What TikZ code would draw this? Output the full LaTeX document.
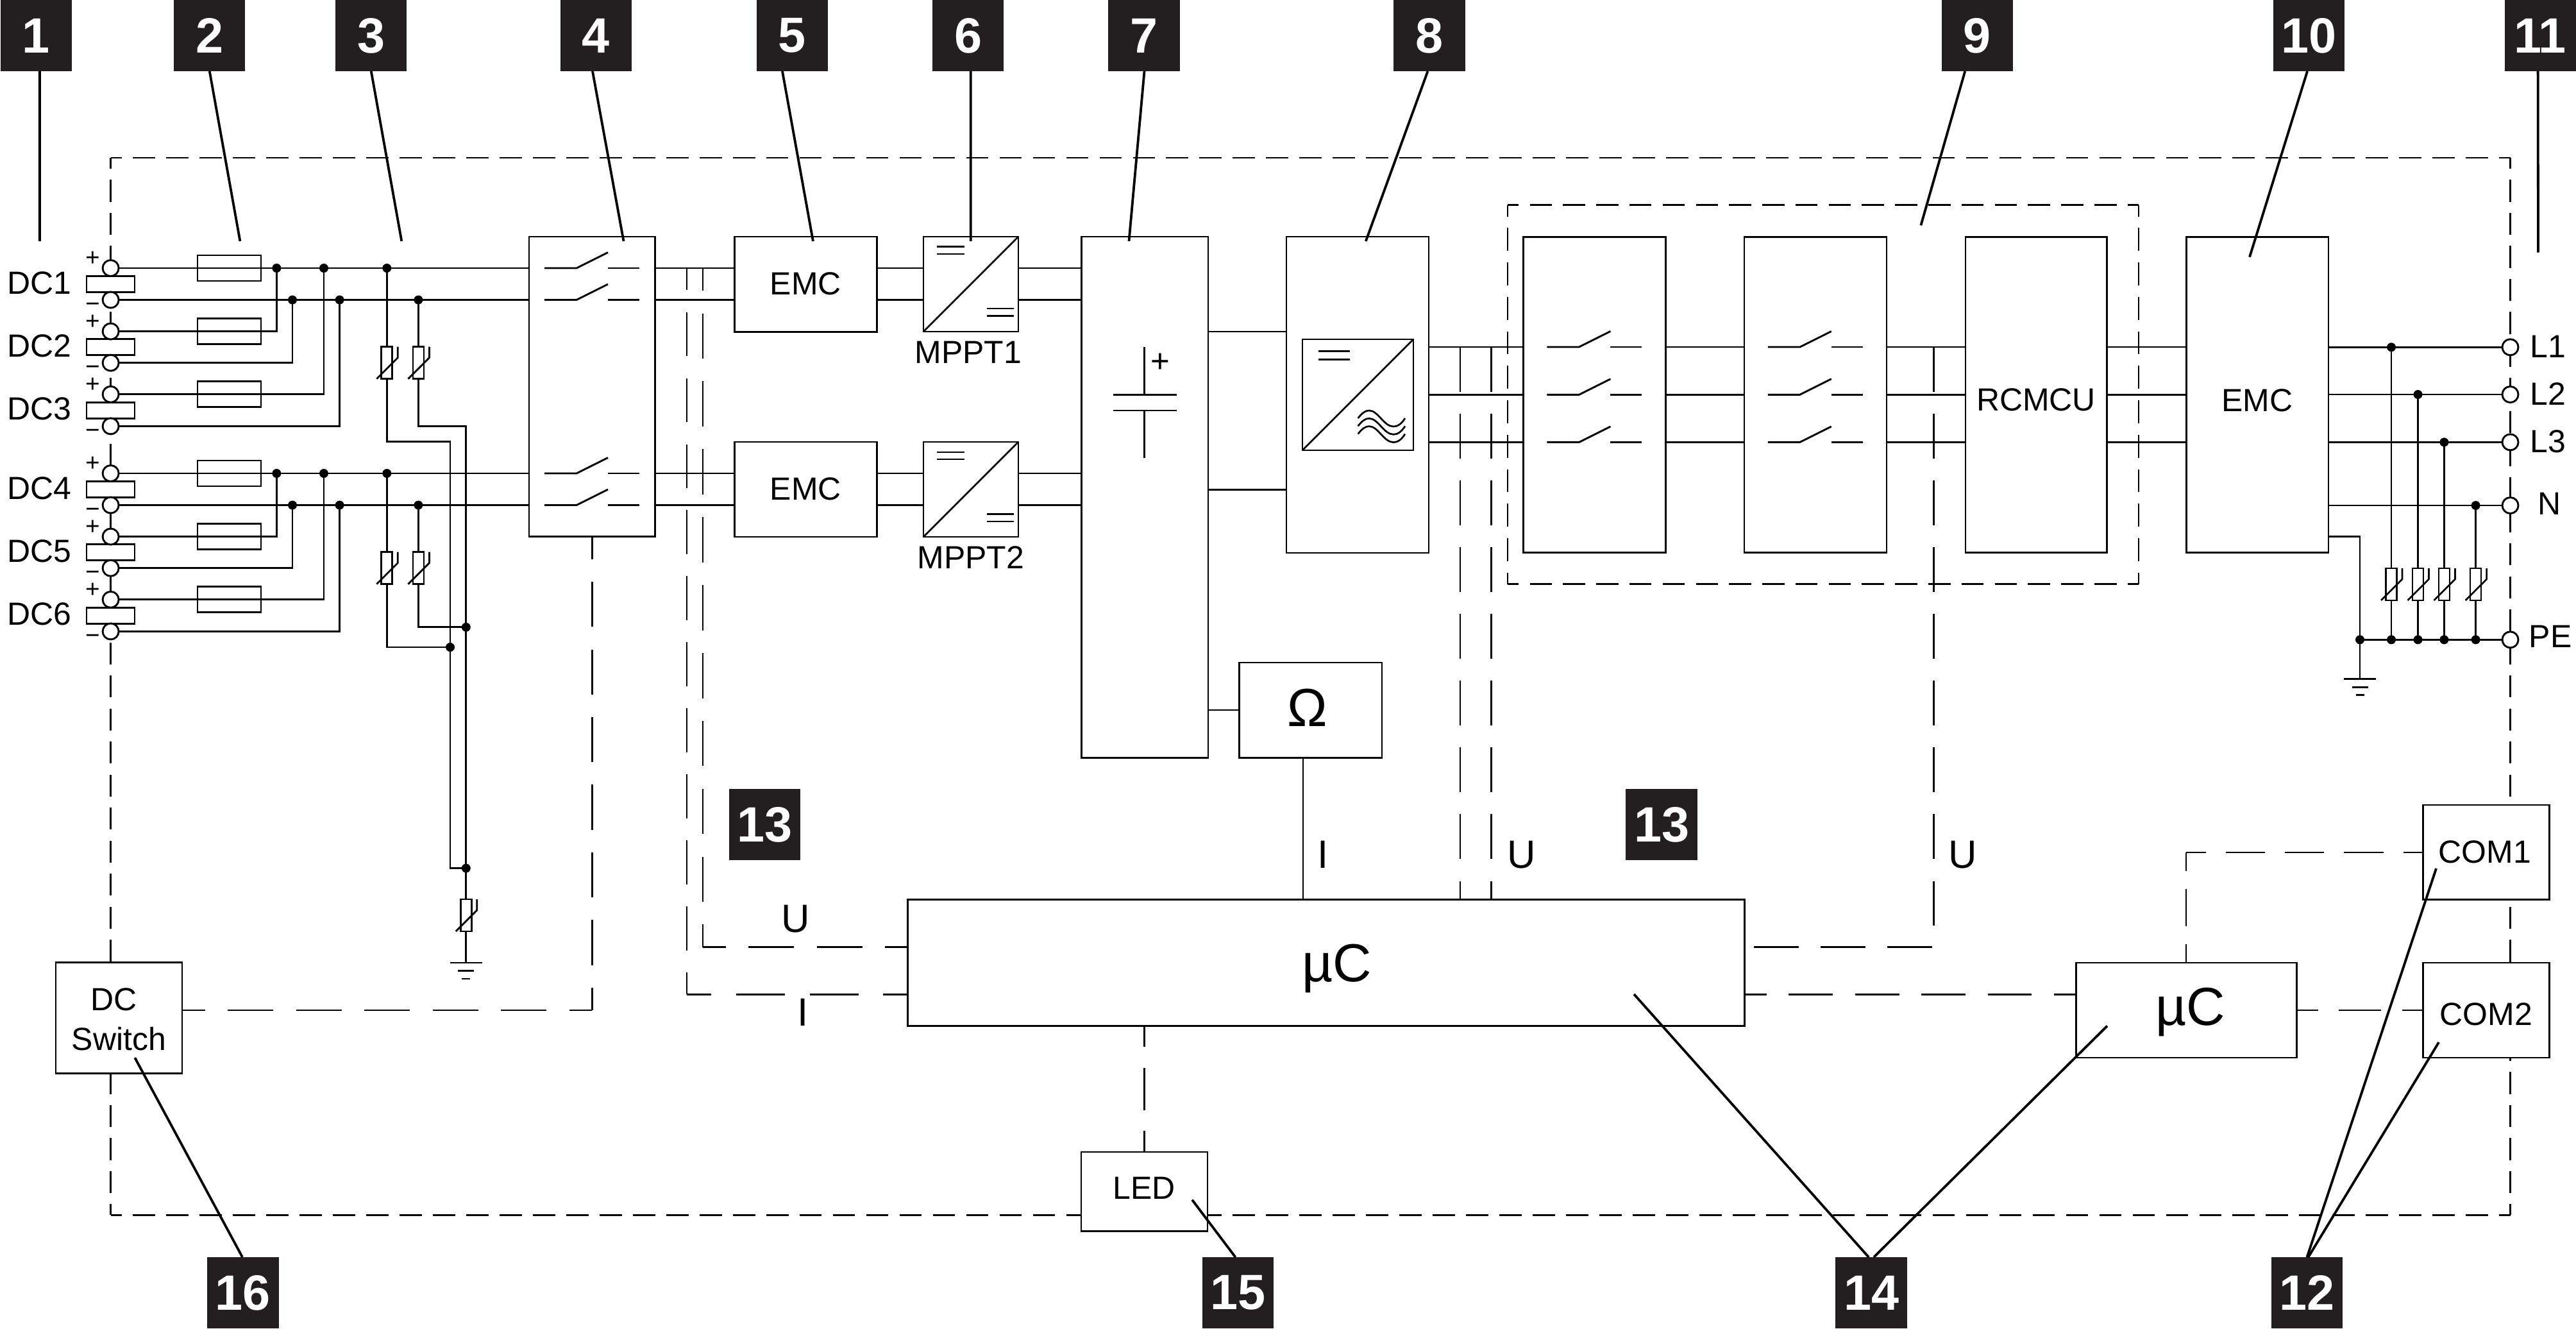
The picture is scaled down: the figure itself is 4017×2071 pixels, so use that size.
\documentclass[tikz,border=0pt]{standalone}
\usepackage{fontspec}
\setmainfont{Liberation Sans}
\usetikzlibrary{calc}
\definecolor{tagblack}{HTML}{231F20}
\newcounter{jc}
\tikzset{
  wire/.style={line width=0.029cm,line cap=butt},
  dl/.style={line width=0.028cm,line cap=butt},
  dfix/.style={dl,dash pattern=on 0.695cm off 0.345cm},
  leader/.style={line width=0.038cm},
  box/.style={draw,line width=0.029cm,fill=white,inner sep=0pt,outer sep=0pt,rectangle},
  fuse/.style={draw,line width=0.029cm,inner sep=0pt,outer sep=0pt,rectangle,minimum width=0.99cm,minimum height=0.40cm},
  vbox/.style={draw,line width=0.027cm,fill=white,inner sep=0pt,outer sep=0pt,rectangle,minimum width=0.17cm,minimum height=0.50cm},
  term/.style={draw,line width=0.029cm,fill=white,circle,inner sep=0pt,outer sep=0pt,minimum size=0.25cm},
  jd/.style={fill=black,circle,inner sep=0pt,outer sep=0pt,minimum size=0.14cm},
  tagn/.style={fill=tagblack,text=white,inner sep=0pt,outer sep=0pt,minimum width=1.11cm,minimum height=1.11cm,font=\fontsize{22pt}{24pt}\selectfont\bfseries},
  lab/.style={inner sep=0pt,anchor=base,font=\fontsize{14.2pt}{17pt}\selectfont},
  labw/.style={lab,anchor=base west},
  big/.style={inner sep=0pt,anchor=base,font=\fontsize{17.5pt}{20pt}\selectfont},
  huge/.style={inner sep=0pt,anchor=base,font=\fontsize{23.8pt}{27pt}\selectfont},
  sgn/.style={inner sep=0pt,font=\fontsize{11pt}{13pt}\selectfont}
}
\newcommand\dseg[3]{%
  \path let \p1=($(#1)-(#2)$),\n1={veclen(\x1,\y1)} in \pgfextra{%
    \pgfmathsetmacro\dper{\n1/#3}\pgfmathsetmacro\don{\dper*2/3}%
    \pgfmathsetmacro\dof{\dper/3}\pgfmathsetmacro\dph{\don/2}%
    \xdef\dOn{\don}\xdef\dOf{\dof}\xdef\dPh{\dph}};
  \draw[dl,dash pattern=on \dOn pt off \dOf pt,dash phase=\dPh pt] (#1) -- (#2);}
\newcommand\blk[5]{%
  \pgfmathsetmacro\bw{(#4-#2)*0.01}\pgfmathsetmacro\bh{(#5-#3)*0.01}%
  \pgfmathsetmacro\bx{(#2+#4)/2}\pgfmathsetmacro\by{(#3+#5)/2}%
  \node[box,minimum width=\bw cm,minimum height=\bh cm] (#1) at (\bx,\by) {};}
\newcommand\tagb[4]{\pgfmathsetmacro\tx{#2+55.5}\pgfmathsetmacro\ty{#3+55.5}%
  \node[tagn] (#1) at (\tx,\ty) {#4};}
\newcommand\ldr[4]{\draw[leader] ($(#1)+(#2,0)$) -- (#3,#4);}
\newcommand\jdot[1]{\stepcounter{jc}\node[jd] (jd\arabic{jc}) at (#1) {};}
\newcommand\vari[3]{% name cx ytop
  \pgfmathsetmacro\vy{#3+25}\node[vbox] (#1) at (#2,\vy) {};
  \pgfmathsetmacro\va{#2-16}\pgfmathsetmacro\vb{#3+50}\pgfmathsetmacro\vc{#2+17}\pgfmathsetmacro\vd{#3+17}%
  \draw[line width=0.027cm] (\va,\vb) -- (\vc,\vd) -- (\vc,#3);}
\newcommand\gnd[2]{% x y
  \draw[wire] ($(#1)+(-25,0)$) -- ($(#1)+(25,0)$);
  \draw[wire] ($(#1)+(-12.5,12.5)$) -- ($(#1)+(12.5,12.5)$);
  \draw[wire] ($(#1)+(-6.5,25)$) -- ($(#1)+(6.5,25)$);}
\newcommand\swt[2]{% x1 y
  \draw[wire] (#1,#2) -- ++(50,0) -- ++(49,-24.5);
  \draw[wire] ($(#1,#2)+(99,0)$) -- ++(49,0);}
\newcommand\eqs[4]{\draw[wire] (#1,#3) -- (#2,#3);\draw[wire] (#1,#4) -- (#2,#4);}
\begin{document}
\begin{tikzpicture}[x=0.01cm,y=-0.01cm]
\useasboundingbox (0,0) rectangle (4017,2071);
\fill[white] (0,0) rectangle (4017,2071);
% ---- dashed frames
\coordinate (oNW) at (172.8,246);\coordinate (oNE) at (3914.5,246);
\coordinate (oSE) at (3914.5,1894.4);\coordinate (oSW) at (172.8,1894.4);
\dseg{oNW}{oNE}{72}\dseg{oNE}{oSE}{32}\dseg{oSE}{oSW}{72}\dseg{oSW}{oNW}{32}
\coordinate (iNW) at (2351,319.6);\coordinate (iNE) at (3335,319.6);
\coordinate (iSE) at (3335,910.6);\coordinate (iSW) at (2351,910.6);
\dseg{iNW}{iNE}{19}\dseg{iNE}{iSE}{11}\dseg{iSE}{iSW}{19}\dseg{iSW}{iNW}{11}
% ---- blocks
\blk{b4}{825}{369}{1021.4}{836.7}
\blk{emcA}{1145.4}{369}{1367.4}{517.5}
\blk{emcB}{1145.4}{689}{1367.4}{837}
\blk{mpA}{1440}{369}{1588}{517}
\blk{mpB}{1440}{689}{1588}{837}
\blk{b7}{1686.5}{369}{1884}{1181.7}
\blk{b8}{2006}{369}{2228}{862}
\blk{inv}{2031}{529}{2204}{702}
\blk{omega}{1932.4}{1033}{2155}{1181.7}
\blk{sA}{2375.4}{369.4}{2597.3}{861.6}
\blk{sB}{2720}{369.4}{2942}{861.6}
\blk{rcm}{3065}{369.4}{3285.6}{861.6}
\blk{emcC}{3409.4}{369.4}{3631}{861.6}
\blk{mc}{1415.8}{1402.7}{2720.4}{1599.7}
\blk{mu}{3237.4}{1501}{3581.8}{1649}
\blk{comA}{3778.3}{1255}{3975.5}{1402.8}
\blk{comB}{3778.3}{1501}{3975.5}{1649}
\blk{dcs}{87}{1500.7}{284}{1673.8}
\blk{led}{1686}{1796}{1883}{1919.7}
% ---- DC wiring (two groups)
\foreach \g/\dy/\nA/\nB/\nC in {a/0/1/2/3,b/320/4/5/6}{
  \foreach \k/\yy/\ym/\nn/\fid in {0/418/467.5/\nA/1,1/516.6/565.7/\nB/2,2/614.8/664.4/\nC/3}{
    \pgfmathsetmacro\yp{\yy+\dy}\pgfmathsetmacro\yn{\ym+\dy}\pgfmathsetmacro\yc{(\yp+\yn)/2}
    \coordinate (p\g\k) at (172.6,\yp);\coordinate (m\g\k) at (172.6,\yn);
    \node[box,minimum width=0.75cm,minimum height=0.25cm] (r\g\k) at (172.5,\yc) {};
    \node[term] (tp\g\k) at (p\g\k) {};
    \node[term] (tm\g\k) at (m\g\k) {};
    \node[fuse] (f\g\k) at (357.5,\yp) {};
    \pgfmathsetmacro\ya{\yp-14.3}\pgfmathsetmacro\yb{\yn+12}\pgfmathsetmacro\yl{\yp+40}
    \node[sgn] (sp\g\k) at (144.5,\ya) {+};
    \node[sgn] (sm\g\k) at (144.5,\yb) {−};
    \node[labw] (dc\g\k) at (11,\yl) {DC\nn};
  }
  \pgfmathsetmacro\ya{418+\dy}\pgfmathsetmacro\yb{467.5+\dy}
  \coordinate (A\g) at (431.4,\ya);\coordinate (B\g) at (456,\yb);
  \coordinate (C\g) at (505,\ya);\coordinate (D\g) at (529.6,\yb);
  \coordinate (E\g) at (603.3,\ya);\coordinate (F\g) at (652.4,\yb);
  \draw[wire] (tp\g0.east) -- (b4.west |- tp\g0);
  \draw[wire] (tm\g0.east) -- (b4.west |- tm\g0);
  \draw[wire] (tp\g1.east) -| (A\g);
  \draw[wire] (tm\g1.east) -| (B\g);
  \draw[wire] (tp\g2.east) -| (C\g);
  \draw[wire] (tm\g2.east) -| (D\g);
  \jdot{A\g}\jdot{B\g}\jdot{C\g}\jdot{D\g}\jdot{E\g}\jdot{F\g}
  \pgfmathsetmacro\yv{540.7+\dy}
  \vari{vE\g}{603.3}{\yv}
  \vari{vF\g}{652.4}{\yv}
  \draw[wire] (E\g) -- (vE\g.north);
  \draw[wire] (F\g) -- (vF\g.north);
  \swt{849}{\ya}\swt{849}{\yb}
}
% surge protection rails
\coordinate (rA) at (702,688.5);\coordinate (rB) at (726.8,664.4);
\coordinate (rC) at (702,1009);\coordinate (rD) at (726.8,977.8);
\coordinate (rE) at (702,1353.6);\coordinate (rF) at (726.8,1353.6);
\vari{vG}{726.8}{1402}
\draw[wire] (vEa.south) |- (rA) -- (rE) -- (rF);
\draw[wire] (vFa.south) |- (rB) -- (vG.north);
\draw[wire] (vEb.south) |- (rC);
\draw[wire] (vFb.south) |- (rD);
\coordinate (gA) at (726.8,1501);
\draw[wire] (vG.south) -- (gA);
\gnd{gA}{}
\jdot{rC}\jdot{rD}\jdot{rF}
% ---- power wires
\foreach \yy/\aa/\bb/\cc in {418/emcA/mpA/b7,467.5/emcA/mpA/b7,738/emcB/mpB/b7,787.6/emcB/mpB/b7}{
  \coordinate (w) at (0,\yy);
  \draw[wire] (b4.east |- w) -- (\aa.west |- w);
  \draw[wire] (\aa.east |- w) -- (\bb.west |- w);
  \draw[wire] (\bb.east |- w) -- (\cc.west |- w);
}
\foreach \yy in {517,763.4}{
  \coordinate (w) at (0,\yy);
  \draw[wire] (b7.east |- w) -- (b8.west |- w);}
\coordinate (wO) at (0,1107);
\draw[wire] (b7.east |- wO) -- (omega.west |- wO);
\coordinate (oml) at (2032,1402.7);
\draw[wire] (oml |- omega.south) -- (oml);
\foreach \yy in {541,615.3,689.4}{
  \coordinate (w) at (0,\yy);
  \draw[wire] (b8.east |- w) -- (sA.west |- w);
  \draw[wire] (sA.east |- w) -- (sB.west |- w);
  \draw[wire] (sB.east |- w) -- (rcm.west |- w);
  \draw[wire] (rcm.east |- w) -- (emcC.west |- w);
  \swt{2412.4}{\yy}\swt{2756.8}{\yy}
}
% ---- converter symbols
\draw[line width=0.027cm] (mpA.south west) -- (mpA.north east);
\draw[line width=0.027cm] (mpB.south west) -- (mpB.north east);
\draw[line width=0.027cm] (inv.south west) -- (inv.north east);
\eqs{1461.4}{1504}{384.4}{396}\eqs{1539}{1581.4}{481}{492.5}
\eqs{1461.4}{1504}{705}{716}\eqs{1539}{1581.4}{801.7}{813}
\eqs{2055.6}{2105}{547.3}{560.3}
\foreach \k in {0,12.3,24.6}{
  \draw[line width=0.027cm,yshift=-\k*0.01cm] (2117.6,652) .. controls (2124,644) and (2129,640) .. (2135,640) .. controls (2149,640) and (2158,665) .. (2173,665) .. controls (2180,665) and (2186,660) .. (2191,652);}
% capacitor
\coordinate (cT) at (1784.6,541);\coordinate (cA) at (1784.6,615.5);
\coordinate (cB) at (1784.6,640);\coordinate (cU) at (1784.6,713.6);
\draw[wire] (cT) -- (cA);\draw[wire] (cB) -- (cU);
\draw[wire] (1736,615.5) -- (1834.6,615.5);\draw[wire] (1736,640) -- (1834.6,640);
\node[inner sep=0pt,font=\fontsize{14.5pt}{16pt}\selectfont] (capplus) at (1809,566) {+};
% ---- AC output
\foreach \yy/\nm/\dx/\xl/\bl in {541.3/L1/3729/3945/557,615/L2/3770.5/3945/631.3,689.4/L3/3811.4/3945/705,788/N/3860.6/3957/802.7}{
  \coordinate (w\nm) at (3914.5,\yy);
  \coordinate (v\nm) at (\dx,\yy);
  \coordinate (b\nm) at (\dx,997.3);
  \vari{vv\nm}{\dx}{886}
  \draw[wire] (emcC.east |- w\nm) -- (w\nm);
  \draw[wire] (v\nm) -- (vv\nm.north);
  \draw[wire] (vv\nm.south) -- (b\nm);
  \node[term] (t\nm) at (w\nm) {};
  \node[labw] (l\nm) at (\xl,\bl) {\nm};
  \jdot{v\nm}\jdot{b\nm}
}
\coordinate (wPE) at (3914.5,997.3);
\coordinate (pe0) at (3680,997.3);
\coordinate (pec) at (3680,836.7);
\coordinate (gB) at (3680,1058.7);
\draw[wire] (pe0) -- (wPE);
\draw[wire] (emcC.east |- pec) -- (pec) -- (gB);
\gnd{gB}{}
\jdot{pe0}
\node[term] (tPE) at (wPE) {};
\node[labw] (lPE) at (3943,1009) {PE};
% ---- measurement dashes
\coordinate (dI) at (1071,418);\coordinate (dIc) at (1071,1550.3);
\coordinate (dU) at (1096,418);\coordinate (dUc) at (1096,1476.7);
\dseg{dI}{dIc}{11}\dseg{dIc}{mc.west |- dIc}{3}
\dseg{dU}{dUc}{10}\dseg{dUc}{mc.west |- dUc}{3}
\coordinate (vA) at (2277,541);\coordinate (vB) at (2325.6,541);
\draw[dfix] (vA) -- (vA |- mc.north);
\draw[dfix] (vB) -- (vB |- mc.north);
\coordinate (vC) at (3015.7,541);\coordinate (vCe) at (3015.7,1443.7);
\draw[dfix] (vC) -- (vCe);
\coordinate (hA) at (2735,1476.7);\coordinate (hB) at (3013,1476.7);
\draw[dfix] (hA) -- (hB);
\coordinate (hI) at (0,1550.3);
\dseg{mc.east |- hI}{mu.west |- hI}{5}
\coordinate (cC) at (3409,1329);
\dseg{comA.west |- cC}{cC}{4}\dseg{cC}{cC |- mu.north}{2}
\dseg{mu.east}{comB.west}{2}
\dseg{mc.south -| led.north}{led.north}{2}
\coordinate (cS) at (923.2,1575);
\dseg{b4.south}{cS}{7}\dseg{cS}{dcs.east |- cS}{6}
% ---- labels
\node[lab] (tEa) at (1256.4,459) {EMC};
\node[lab] (tEb) at (1256.4,779) {EMC};
\node[lab] (tEc) at (3520,641) {EMC};
\node[lab] (tM1) at (1510,566) {MPPT1};
\node[lab] (tM2) at (1514,886) {MPPT2};
\node[lab] (tRC) at (3175,640) {RCMCU};
\node[lab] (tDC) at (178,1575) {DC};
\node[lab] (tSw) at (185.5,1637) {Switch};
\node[lab] (tLED) at (1784,1869) {LED};
\node[lab] (tC1) at (3875,1345.5) {COM1};
\node[lab] (tC2) at (3877,1598) {COM2};
\node[huge] (tmu1) at (2085,1530) {µC};
\node[huge] (tmu2) at (3415.7,1598) {µC};
\node[huge] (tOm) at (2039,1132) {Ω};
\node[big] (tU1) at (1241,1453) {U};
\node[big] (tI1) at (1252,1599) {I};
\node[big] (tI2) at (2063,1353) {I};
\node[big] (tU2) at (2373,1353) {U};
\node[big] (tU3) at (3061,1353) {U};
% ---- tags
\tagb{t1}{0.8}{0}{1}\tagb{t2}{271.3}{0}{2}\tagb{t3}{523.3}{0}{3}\tagb{t4}{873.8}{0}{4}
\tagb{t5}{1180}{0}{5}\tagb{t6}{1454.4}{0}{6}\tagb{t7}{1728.5}{0}{7}\tagb{t8}{2173.5}{0}{8}
\tagb{t9}{3027.7}{0}{9}\tagb{t10}{3544.5}{0}{10}\tagb{t11}{3905.5}{0}{11}
\tagb{t13a}{1137}{1230}{13}\tagb{t13b}{2535.5}{1230}{13}
\tagb{t16}{323.5}{1960}{16}\tagb{t15}{1875}{1960}{15}\tagb{t14}{2862.5}{1960}{14}\tagb{t12}{3542}{1960}{12}
\ldr{t1.south}{5.6}{61.9}{376}
\ldr{t2.south}{0}{374.4}{376}
\ldr{t3.south}{0}{626.3}{376}
\ldr{t4.south}{-5.3}{972.5}{376}
\ldr{t5.south}{-15.5}{1267.9}{376}
\ldr{t6.south}{3.8}{1513.7}{376}
\ldr{t7.south}{0.5}{1760.5}{376}
\ldr{t8.south}{-2.6}{2129.8}{376}
\ldr{t9.south}{-19}{2995.4}{351.3}
\ldr{t10.south}{-2}{3508}{400.7}
\ldr{t11.south}{-3.4}{3958}{393.7}
\ldr{t16.north}{-1}{210.3}{1649}
\ldr{t15.north}{-4}{1859}{1870.6}
\ldr{t14.north}{-4}{2548}{1550}
\ldr{t14.north}{4}{3286}{1599.4}
\ldr{t12.north}{0}{3799}{1354}
\ldr{t12.north}{2}{3803}{1625}
\end{tikzpicture}
\end{document}
